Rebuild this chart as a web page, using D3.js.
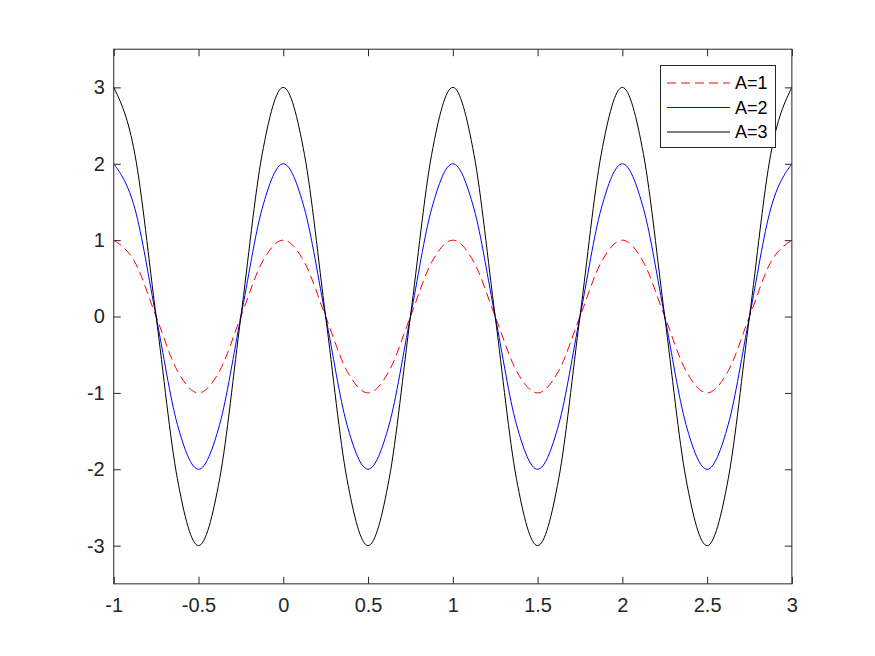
<!DOCTYPE html>
<html>
<head>
<meta charset="utf-8">
<script src="https://cdn.jsdelivr.net/npm/d3@7"></script>
<style>
  html, body { margin: 0; padding: 0; background: #ffffff; }
  svg { display: block; }
  text { font-family: "Liberation Sans", Arial, Helvetica, sans-serif; }
</style>
</head>
<body>
<svg id="chart" width="875" height="656"></svg>
<script>
// ---- data ----
const xValues = [-1, -0.875, -0.75, -0.625, -0.5, -0.375, -0.25, -0.125,
                  0, 0.125, 0.25, 0.375, 0.5, 0.625, 0.75, 0.875,
                  1, 1.125, 1.25, 1.375, 1.5, 1.625, 1.75, 1.875,
                  2, 2.125, 2.25, 2.375, 2.5, 2.625, 2.75, 2.875, 3];
const seriesA1 = [1, 0.71, 0, -0.71, -1, -0.71, 0, 0.71,
                  1, 0.71, 0, -0.71, -1, -0.71, 0, 0.71,
                  1, 0.71, 0, -0.71, -1, -0.71, 0, 0.71,
                  1, 0.71, 0, -0.71, -1, -0.71, 0, 0.71, 1];
const seriesA2 = [2, 1.41, 0, -1.41, -2, -1.41, 0, 1.41,
                  2, 1.41, 0, -1.41, -2, -1.41, 0, 1.41,
                  2, 1.41, 0, -1.41, -2, -1.41, 0, 1.41,
                  2, 1.41, 0, -1.41, -2, -1.41, 0, 1.41, 2];
const seriesA3 = [3, 2.12, 0, -2.12, -3, -2.12, 0, 2.12,
                  3, 2.12, 0, -2.12, -3, -2.12, 0, 2.12,
                  3, 2.12, 0, -2.12, -3, -2.12, 0, 2.12,
                  3, 2.12, 0, -2.12, -3, -2.12, 0, 2.12, 3];
const seriesNames = ["A=1", "A=2", "A=3"];
const xTicks = [-1, -0.5, 0, 0.5, 1, 1.5, 2, 2.5, 3];
const yTicks = [-3, -2, -1, 0, 1, 2, 3];

(function () {
// ---- layout ----
const W = 875, H = 656;
const pLeft = 0.13 * W, pWidth = 0.775 * W;
const pBottom = H * (1 - 0.11), pHeight = 0.815 * H;
const pRight = pLeft + pWidth, pTop = pBottom - pHeight;
const axisColor = "#262626";

const svg = d3.select("#chart");
const x = d3.scaleLinear().domain([-1, 3]).range([pLeft, pRight]);
const y = d3.scaleLinear().domain([-3.5, 3.5]).range([pBottom, pTop]);

svg.append("defs").append("clipPath").attr("id", "clip")
  .append("rect").attr("x", pLeft).attr("y", pTop).attr("width", pWidth).attr("height", pHeight);

// lines
const styles = [
  { data: seriesA1, color: "#ff0000", dash: "9,5" },
  { data: seriesA2, color: "#0000ff", dash: null },
  { data: seriesA3, color: "#000000", dash: null }
];
const line = d3.line().x(d => x(d[0])).y(d => y(d[1])).curve(d3.curveMonotoneX);
const plotG = svg.append("g").attr("clip-path", "url(#clip)");
styles.forEach(s => {
  plotG.append("path")
    .datum(xValues.map((xv, i) => [xv, s.data[i]]))
    .attr("d", line)
    .attr("fill", "none")
    .attr("stroke", s.color)
    .attr("stroke-width", 1)
    .attr("stroke-dasharray", s.dash);
});

// axes
const tickLen = 7;
function styleAxis(g) {
  g.selectAll(".domain").remove();
  g.selectAll(".tick line").attr("stroke", axisColor).attr("stroke-width", 1);
  g.selectAll(".tick text").attr("fill", axisColor)
    .style("font-family", '"Liberation Sans", Arial, sans-serif')
    .style("font-size", "20px");
}
const fmt = d => String(d);
svg.append("g").attr("transform", `translate(0,${pBottom})`)
  .call(d3.axisBottom(x).tickValues(xTicks).tickSize(-tickLen).tickPadding(14).tickFormat(fmt))
  .call(styleAxis);
svg.append("g").attr("transform", `translate(0,${pTop})`)
  .call(d3.axisTop(x).tickValues(xTicks).tickSize(-tickLen).tickFormat(""))
  .call(styleAxis);
svg.append("g").attr("transform", `translate(${pLeft},0)`)
  .call(d3.axisLeft(y).tickValues(yTicks).tickSize(-tickLen).tickPadding(9).tickFormat(fmt))
  .call(styleAxis);
svg.append("g").attr("transform", `translate(${pRight},0)`)
  .call(d3.axisRight(y).tickValues(yTicks).tickSize(-tickLen).tickFormat(""))
  .call(styleAxis);

// box
svg.append("rect").attr("x", pLeft).attr("y", pTop).attr("width", pWidth).attr("height", pHeight)
  .attr("fill", "none").attr("stroke", axisColor).attr("stroke-width", 1);

// legend
const lg = svg.append("g").attr("class", "legend");
lg.append("rect").attr("x", 660.5).attr("y", 65.5).attr("width", 115).attr("height", 82)
  .attr("fill", "#ffffff").attr("stroke", axisColor).attr("stroke-width", 1);
seriesNames.forEach((name, i) => {
  const yy = 83 + i * 24.5;
  lg.append("line").attr("x1", 667).attr("x2", 730).attr("y1", yy).attr("y2", yy)
    .style("stroke", styles[i].color).attr("stroke-width", 1)
    .attr("stroke-dasharray", styles[i].dash);
  lg.append("text").attr("x", 735).attr("y", yy).attr("dy", "0.35em")
    .attr("fill", "#000000").style("font-size", "18px").text(name);
});
})();
</script>
</body>
</html>
